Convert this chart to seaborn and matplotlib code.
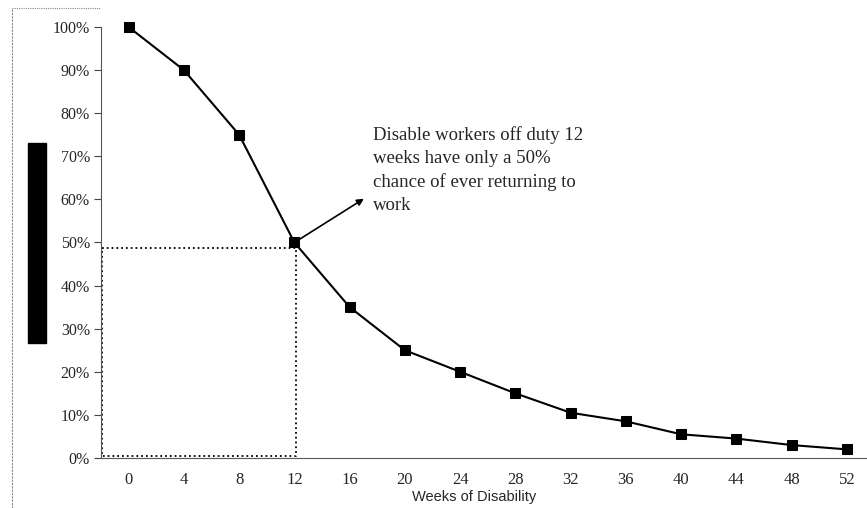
import numpy as np
import pandas as pd
import matplotlib
matplotlib.use('Agg')
import matplotlib.pyplot as plt
from matplotlib.patches import Rectangle
from matplotlib.lines import Line2D
import seaborn as sns

# data
weeks = [0, 4, 8, 12, 16, 20, 24, 28, 32, 36, 40, 44, 48, 52]
survival = [100, 90, 75, 50, 35, 25, 20, 15, 10.5, 8.5, 5.5, 4.5, 3, 2]
ytick_labels = ['0%', '10%', '20%', '30%', '40%', '50%', '60%', '70%', '80%', '90%', '100%']
note = 'Disable workers off duty 12\nweeks have only a 50%\nchance of ever returning to\nwork'

df = pd.DataFrame({'weeks': weeks, 'survival': survival})

sns.set_style('white')
plt.rcParams['font.family'] = ['Liberation Serif', 'DejaVu Serif']

fig = plt.figure(figsize=(8.67, 5.08), dpi=100)
ax = fig.add_axes([101 / 867, 1 - 458 / 508, 773.6 / 867, 431 / 508])

sns.lineplot(data=df, x='weeks', y='survival', ax=ax, color='black',
             marker='s', markersize=7, markeredgecolor='black', linewidth=1.5,
             clip_on=False)

ax.set_xlim(-2, 54)
ax.set_ylim(0, 100)

# x: labels at the categories, tick marks between them
ax.set_xticks(weeks)
ax.set_xticklabels([str(w) for w in weeks], fontsize=12)
ax.set_xticks([w + 2 for w in weeks], minor=True)
ax.tick_params(axis='x', which='major', length=0, pad=10)
ax.tick_params(axis='x', which='minor', length=7, width=0.8, direction='inout', color='#444444')

ax.set_yticks(range(0, 101, 10))
ax.set_yticklabels(ytick_labels, fontsize=11.5)
ax.tick_params(axis='y', length=5, width=0.8, direction='out', color='#444444', left=True, pad=3)

for side in ['top', 'right']:
    ax.spines[side].set_visible(False)
for side in ['left', 'bottom']:
    ax.spines[side].set_color('#555555')
    ax.spines[side].set_linewidth(0.8)

ax.set_xlabel('Weeks of Disability', family=['Liberation Sans', 'DejaVu Sans'], fontsize=10.5)
ax.xaxis.set_label_coords(0.482, -0.075)
ax.set_ylabel('')

# dotted box to the 12 week / 50% point
box_x, box_y = weeks[3] + 0.15, survival[3] - 1.3
ax.plot([-1.9, box_x, box_x, -1.9, -1.9], [box_y, box_y, 0.5, 0.5, box_y],
        ls=':', color='black', lw=1.3, clip_on=False)

ax.annotate('', xy=(17.2, 60.5), xytext=(weeks[3], survival[3]),
            arrowprops=dict(arrowstyle='-|>', color='black', lw=1.2, mutation_scale=10))
ax.text(17.7, 77.0, note, fontsize=13.5, va='top', ha='left', linespacing=1.45)

# redacted y label block and the scanned frame edge
fig.add_artist(Rectangle((28 / 867, 1 - 343 / 508), 18 / 867, 200 / 508,
                         transform=fig.transFigure, color='black'))
fig.add_artist(Line2D([12 / 867, 12 / 867], [0, 1 - 8 / 508], transform=fig.transFigure,
                      color='#888888', lw=0.8, ls=(0, (2, 1))))
fig.add_artist(Line2D([12 / 867, 100 / 867], [1 - 8 / 508, 1 - 8 / 508], transform=fig.transFigure,
                      color='#888888', lw=0.8, ls=(0, (1, 1))))

fig.savefig('out.png', dpi=100)
